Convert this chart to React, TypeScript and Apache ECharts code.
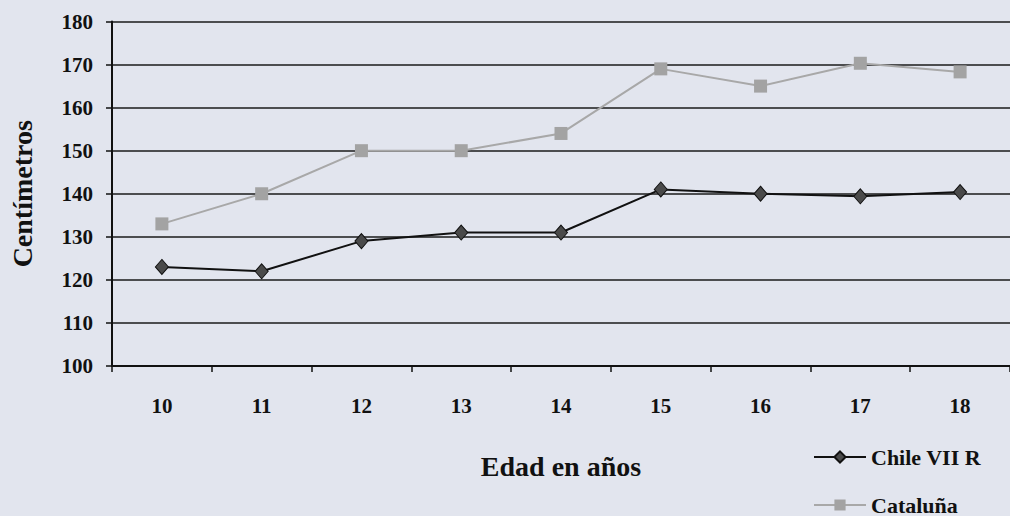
import React, { useEffect, useRef } from "react";
import * as echarts from "echarts";

const ages = ["10", "11", "12", "13", "14", "15", "16", "17", "18"];
const chileVII = [123, 122, 129, 131, 131, 141, 140, 139.4, 140.4];
const cataluna = [133, 140, 150, 150, 154, 169, 165, 170.3, 168.3];
const yTicks = { min: 100, max: 180, interval: 10 };

const FONT = "'Liberation Serif', 'Times New Roman', serif";

export default function App() {
  const ref = useRef<HTMLDivElement>(null);
  useEffect(() => {
    if (!ref.current) return;
    const chart = echarts.init(ref.current, null, { renderer: "svg" });
    const legendBase = {
      orient: "horizontal",
      left: 813,
      itemWidth: 52,
      itemHeight: 14,
      padding: 0,
      textStyle: { fontFamily: FONT, fontWeight: "bold", fontSize: 22, color: "#111" },
    };
    chart.setOption({
      animation: false,
      backgroundColor: "#e2e5ee",
      grid: { left: 111, right: -8, top: 21.5, bottom: 150 },
      legend: [
        { ...legendBase, top: 446, data: ["Chile VII R"] },
        { ...legendBase, top: 494, data: ["Cataluña"] },
      ],
      xAxis: {
        type: "category",
        data: ages,
        boundaryGap: true,
        name: "Edad en años",
        nameLocation: "middle",
        nameGap: 86,
        nameTextStyle: { fontFamily: FONT, fontWeight: "bold", fontSize: 28, color: "#111" },
        axisLine: { lineStyle: { color: "#111", width: 2 } },
        axisTick: { show: true, length: 6, lineStyle: { color: "#111", width: 1.5 } },
        axisLabel: { fontFamily: FONT, fontWeight: "bold", fontSize: 21, color: "#111", margin: 29 },
        splitLine: { show: false },
      },
      yAxis: {
        type: "value",
        min: yTicks.min,
        max: yTicks.max,
        interval: yTicks.interval,
        name: "Centímetros",
        nameLocation: "middle",
        nameGap: 76,
        nameTextStyle: { fontFamily: FONT, fontWeight: "bold", fontSize: 28, color: "#111" },
        axisLine: { show: true, lineStyle: { color: "#111", width: 2 } },
        axisTick: { show: true, length: 6, lineStyle: { color: "#111", width: 1.5 } },
        axisLabel: { fontFamily: FONT, fontWeight: "bold", fontSize: 21, color: "#111", margin: 19 },
        splitLine: { show: true, lineStyle: { color: "#1a1a1a", width: 1.6 } },
      },
      series: [
        {
          name: "Chile VII R",
          type: "line",
          data: chileVII,
          symbol: "diamond",
          symbolSize: [13, 15],
          lineStyle: { color: "#111", width: 2 },
          itemStyle: { color: "#4a4a4a", borderColor: "#111", borderWidth: 1 },
        },
        {
          name: "Cataluña",
          type: "line",
          data: cataluna,
          symbol: "rect",
          symbolSize: 13,
          lineStyle: { color: "#a8a8a8", width: 2 },
          itemStyle: { color: "#a3a3a3", borderColor: "#a3a3a3", borderWidth: 0 },
        },
      ],
    });
    return () => chart.dispose();
  }, []);
  return <div ref={ref} style={{ width: 1010, height: 516, position: "fixed", left: 0, top: 0 }} />;
}
